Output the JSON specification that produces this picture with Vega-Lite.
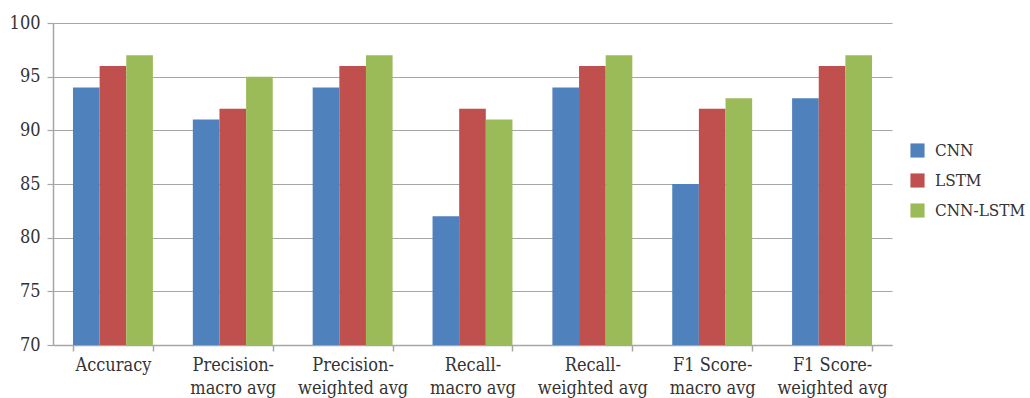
{
  "$schema": "https://vega.github.io/schema/vega-lite/v6.json",
  "autosize": "none",
  "width": 839,
  "height": 322,
  "padding": {"left": 53, "top": 23, "right": 138, "bottom": 53},
  "background": "white",
  "config": {
    "view": {"stroke": null},
    "font": "DejaVu Serif Condensed"
  },
  "data": {
    "values": [
      {"metric": "Accuracy", "model": "CNN", "value": 94},
      {"metric": "Accuracy", "model": "LSTM", "value": 96},
      {"metric": "Accuracy", "model": "CNN-LSTM", "value": 97},
      {"metric": "Precision-|macro avg", "model": "CNN", "value": 91},
      {"metric": "Precision-|macro avg", "model": "LSTM", "value": 92},
      {"metric": "Precision-|macro avg", "model": "CNN-LSTM", "value": 95},
      {"metric": "Precision-|weighted avg", "model": "CNN", "value": 94},
      {"metric": "Precision-|weighted avg", "model": "LSTM", "value": 96},
      {"metric": "Precision-|weighted avg", "model": "CNN-LSTM", "value": 97},
      {"metric": "Recall-|macro avg", "model": "CNN", "value": 82},
      {"metric": "Recall-|macro avg", "model": "LSTM", "value": 92},
      {"metric": "Recall-|macro avg", "model": "CNN-LSTM", "value": 91},
      {"metric": "Recall-|weighted avg", "model": "CNN", "value": 94},
      {"metric": "Recall-|weighted avg", "model": "LSTM", "value": 96},
      {"metric": "Recall-|weighted avg", "model": "CNN-LSTM", "value": 97},
      {"metric": "F1 Score-|macro avg", "model": "CNN", "value": 85},
      {"metric": "F1 Score-|macro avg", "model": "LSTM", "value": 92},
      {"metric": "F1 Score-|macro avg", "model": "CNN-LSTM", "value": 93},
      {"metric": "F1 Score-|weighted avg", "model": "CNN", "value": 93},
      {"metric": "F1 Score-|weighted avg", "model": "LSTM", "value": 96},
      {"metric": "F1 Score-|weighted avg", "model": "CNN-LSTM", "value": 97}
    ]
  },
  "mark": {"type": "bar", "clip": true},
  "encoding": {
    "x": {
      "field": "metric",
      "type": "nominal",
      "sort": null,
      "scale": {"paddingInner": 0.3333, "paddingOuter": 0.1667},
      "axis": {
        "title": null,
        "labelAngle": 0,
        "labelExpr": "split(datum.label, '|')",
        "labelFontSize": 18,
        "labelColor": "#333333",
        "labelPadding": 5,
        "labelLineHeight": 23,
        "tickBand": "extent",
        "tickSize": 6,
        "tickColor": "#A6A6A6",
        "domainColor": "#A6A6A6",
        "domainWidth": 1.5,
        "tickWidth": 1.5
      }
    },
    "xOffset": {"field": "model", "type": "nominal", "sort": ["CNN", "LSTM", "CNN-LSTM"], "scale": {"paddingInner": 0, "paddingOuter": 0}},
    "y": {
      "field": "value",
      "type": "quantitative",
      "scale": {"domain": [70, 100], "nice": false, "zero": false},
      "axis": {
        "title": null,
        "values": [70, 75, 80, 85, 90, 95, 100],
        "labelFontSize": 18,
        "labelColor": "#333333",
        "labelPadding": 7,
        "tickSize": 6,
        "tickColor": "#A6A6A6",
        "domainColor": "#A6A6A6",
        "gridColor": "#A6A6A6",
        "domainWidth": 1.5,
        "gridWidth": 1.2,
        "tickWidth": 1.2
      }
    },
    "color": {
      "field": "model",
      "type": "nominal",
      "sort": ["CNN", "LSTM", "CNN-LSTM"],
      "scale": {"domain": ["CNN", "LSTM", "CNN-LSTM"], "range": ["#4F81BD", "#C0504D", "#9BBB59"]},
      "legend": {
        "title": null,
        "orient": "none",
        "legendX": 856,
        "legendY": 119,
        "symbolType": "square",
        "symbolSize": 200,
        "symbolStrokeWidth": 0,
        "labelFontSize": 17,
        "labelColor": "#333333",
        "rowPadding": 12,
        "labelOffset": 9
      }
    }
  }
}
